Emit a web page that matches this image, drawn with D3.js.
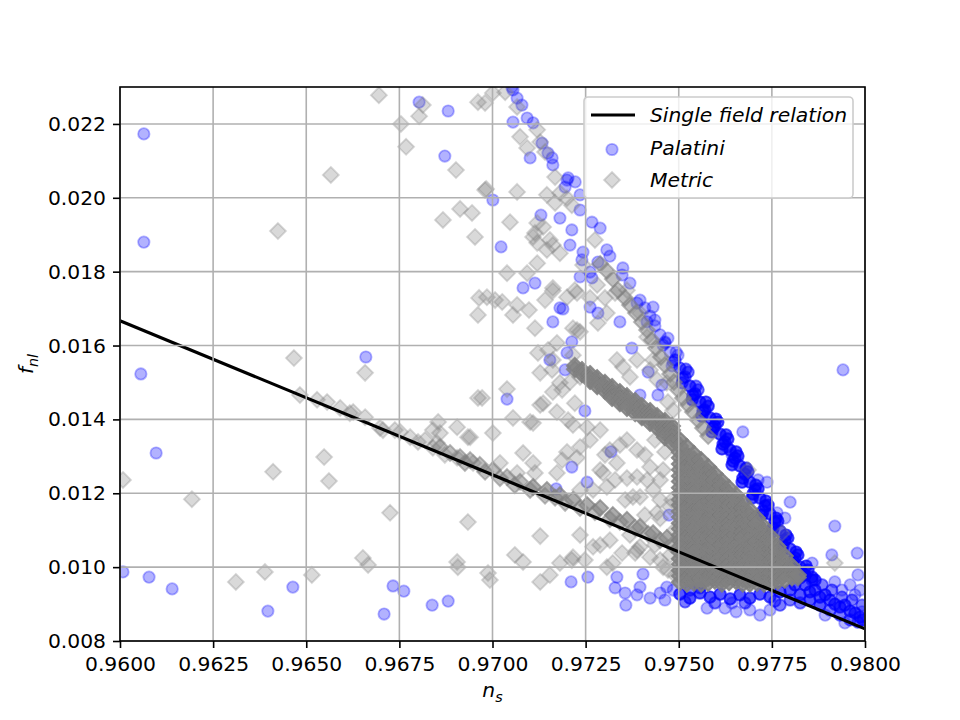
<!DOCTYPE html>
<html>
<head>
<meta charset="utf-8">
<script src="https://cdn.jsdelivr.net/npm/d3@7"></script>
<style>
  body { margin: 0; background: #fff; }
  svg { display: block; }
  text { font-family: "DejaVu Sans", sans-serif; }
</style>
</head>
<body>
<div id="chart"></div>
<script>
// ---- data ----
// points are [ns, fnl] or [ns, fnl, n] where n = how many markers overlap there
const xTicks = [0.96, 0.9625, 0.965, 0.9675, 0.97, 0.9725, 0.975, 0.9775, 0.98];
const yTicks = [0.008, 0.010, 0.012, 0.014, 0.016, 0.018, 0.020, 0.022];

// single field relation, two end points
const lineNs = [0.96, 0.98];
const lineFnl = [0.01667, 0.00833];

// Palatini: isolated points
const palatiniScatter = [
  [0.96064,0.02173],[0.96064,0.01880],[0.96056,0.01523],[0.96097,0.01309],[0.96008,0.00987],
  [0.96078,0.00973],[0.96140,0.00941],[0.96397,0.00881],[0.96464,0.00946],[0.96660,0.01569],
  [0.96709,0.00873],[0.96733,0.00949],[0.96762,0.00935],[0.96838,0.00897],[0.96881,0.00908],
  [0.96803,0.02259],[0.96881,0.02235],[0.96872,0.02113],[0.97001,0.01994],[0.97023,0.01867],
  [0.97082,0.01756],[0.97114,0.01769],[0.97189,0.01699],[0.97162,0.01664],[0.97039,0.01455],
  [0.97248,0.01423],[0.97213,0.01610],[0.97200,0.01580],[0.97195,0.01534],[0.97318,0.01312],
  [0.97213,0.01271],[0.97254,0.01230],[0.97171,0.01212],[0.97474,0.01141],[0.97672,0.01366],
  [0.97737,0.01230],[0.97713,0.01236],[0.97799,0.01176],[0.97785,0.01133],[0.97764,0.01147],
  [0.97919,0.01111],[0.97979,0.01038],[0.97911,0.01033],[0.97981,0.00979],[0.97938,0.00938],
  [0.97973,0.00925],[0.97858,0.01011],[0.97576,0.00889],[0.97654,0.00879],[0.97691,0.00884],
  [0.97718,0.00870],[0.97941,0.01534],[0.97211,0.00960],[0.97256,0.00973],[0.97334,0.00973],
  [0.97329,0.00944],[0.97356,0.00930],[0.97358,0.00897],[0.97388,0.00925],[0.97404,0.00981],
  [0.97396,0.00946],[0.97450,0.00930],[0.97468,0.00946],[0.97485,0.00938],[0.97630,0.01325],
  [0.97643,0.01304]
];

// Palatini: upper branch
const palatiniUpper = [
  [0.97052,0.02300],[0.97055,0.02292],[0.97066,0.02270],[0.97079,0.02251],[0.97055,0.02205],
  [0.97093,0.02216],[0.97109,0.02203],[0.97101,0.02108],[0.97133,0.02148],[0.97149,0.02121],
  [0.97160,0.02108],[0.97162,0.02089],[0.97203,0.02054],[0.97222,0.02043],[0.97195,0.02029],
  [0.97235,0.02008],[0.97235,0.01967],[0.97267,0.01934],[0.97289,0.01918],[0.97213,0.01913],
  [0.97130,0.01953],[0.97181,0.01945],[0.97208,0.01872],[0.97243,0.01853],[0.97240,0.01832],
  [0.97307,0.01859],[0.97315,0.01842],[0.97350,0.01810],[0.97283,0.01826],[0.97235,0.01786],
  [0.97267,0.01783],[0.97262,0.01799],[0.97348,0.01791],[0.97369,0.01769],[0.97388,0.01715],
  [0.97431,0.01704],[0.97415,0.01664],[0.97436,0.01669],[0.97463,0.01610],[0.97181,0.01702],
  [0.97283,0.01688],[0.97342,0.01664],[0.97374,0.01593],[0.97262,0.01704],[0.97154,0.01561],
  [0.97455,0.01493],[0.97444,0.01466],[0.97396,0.01466],[0.97418,0.01528],[0.97200,0.02048]
];

// Palatini: dense edge running down to the tip
const palatiniEdge = [
  [0.97396,0.01723],[0.97409,0.01702],[0.97423,0.01680],[0.97436,0.01653],
  [0.97450,0.01629],[0.97463,0.01607],[0.97477,0.01582],[0.97490,0.01561,2],[0.97503,0.01539,2],
  [0.97517,0.01515,2],[0.97530,0.01490,3],[0.97544,0.01469,3],[0.97557,0.01447,3],[0.97570,0.01425,3],
  [0.97584,0.01404,3],[0.97597,0.01382,3],[0.97611,0.01360,3],[0.97624,0.01339,3],[0.97638,0.01317,3],
  [0.97651,0.01295,3],[0.97664,0.01274,3],[0.97678,0.01252,3],[0.97691,0.01230,3],[0.97705,0.01209,3],
  [0.97718,0.01187,3],[0.97732,0.01166,3],[0.97745,0.01144,3],[0.97758,0.01122,3],[0.97772,0.01098,3],
  [0.97785,0.01073,3],[0.97799,0.01049,3],[0.97812,0.01025,3],[0.97826,0.01000,3],[0.97839,0.00979,3],
  [0.97471,0.01620],[0.97498,0.01574],[0.97525,0.01528,2],[0.97552,0.01480,2],[0.97579,0.01436,3],
  [0.97605,0.01393,3],[0.97632,0.01347,3],[0.97659,0.01301,3],[0.97686,0.01258,3],[0.97713,0.01212,3],
  [0.97740,0.01168,3],[0.97766,0.01125,3],[0.97793,0.01079,3],[0.97820,0.01033,3],[0.97847,0.00992,3],
  [0.97866,0.00965,3],
  [0.97482,0.01545],[0.97509,0.01499,2],[0.97536,0.01453,3],[0.97562,0.01409,3],[0.97589,0.01366,3],
  [0.97616,0.01320,3],[0.97643,0.01277,3],[0.97670,0.01230,3],[0.97697,0.01187,3],[0.97723,0.01141,3],
  [0.97750,0.01095,3],[0.97777,0.01046,3],[0.97804,0.01003,3],[0.97826,0.00971,3],
  [0.97458,0.01601],[0.97485,0.01555],[0.97511,0.01512,2],[0.97538,0.01466,3],[0.97565,0.01423,3],
  [0.97592,0.01377,3],[0.97619,0.01333,3],[0.97646,0.01287,3],[0.97672,0.01241,3],[0.97699,0.01198,3],
  [0.97726,0.01152,3],[0.97753,0.01106,3],[0.97780,0.01060,3],[0.97807,0.01017,3],[0.97834,0.00981,3],
  [0.97493,0.01582],[0.97519,0.01536,2],[0.97546,0.01490,2],[0.97573,0.01447,3],[0.97600,0.01401,3],
  [0.97627,0.01358,3],[0.97654,0.01312,3],[0.97681,0.01268,3],[0.97707,0.01222,3],[0.97734,0.01179,3],
  [0.97761,0.01133,3],[0.97788,0.01087,3],[0.97815,0.01041,3],[0.97842,0.01003,3],[0.97858,0.00973,3]
];

// Palatini: crowd below the wedge and past the tip
const palatiniLower = [
  [0.97503,0.00927,3],[0.97530,0.00916,3],[0.97557,0.00930,3],[0.97584,0.00919,3],[0.97611,0.00927,3],
  [0.97638,0.00914,3],[0.97664,0.00925,3],[0.97691,0.00916,3],[0.97718,0.00927,3],[0.97745,0.00919,3],
  [0.97772,0.00933,3],[0.97799,0.00938,3],[0.97517,0.00906,2],[0.97597,0.00903,2],[0.97678,0.00903,2],
  [0.97758,0.00908,2],[0.97423,0.00916],[0.97463,0.00911],[0.97530,0.00938,2],[0.97557,0.00944,2],
  [0.97643,0.00903],[0.97624,0.00889],[0.97745,0.00884],[0.97772,0.00897,2],
  [0.97812,0.00952,3],[0.97839,0.00952,3],[0.97852,0.00933,3],[0.97866,0.00938,3],[0.97879,0.00919,3],
  [0.97893,0.00925,3],[0.97906,0.00911,3],[0.97919,0.00900,3],[0.97933,0.00892,3],[0.97946,0.00897,3],
  [0.97960,0.00881,3],[0.97973,0.00876,3],[0.97987,0.00865,3],[0.97995,0.00857,3],[0.97826,0.00925,3],
  [0.97852,0.00911,3],[0.97879,0.00897,3],[0.97906,0.00884,2],[0.97933,0.00870,2],[0.97960,0.00857,2],
  [0.97981,0.00851,2],[0.97858,0.00965,2],[0.97885,0.00952,2],[0.97911,0.00938,2],[0.97938,0.00919,2],
  [0.97965,0.00911,2],[0.97992,0.00897,2],[0.97799,0.00911,2],[0.97826,0.00903,2],[0.97893,0.00870],
  [0.97946,0.00849],[0.97992,0.00879],[0.97919,0.00960],[0.97960,0.00952],[0.97987,0.00938]
];

// Metric: isolated points
const metricScatter = [
  [0.96695,0.02278],[0.96754,0.02200],[0.96803,0.02221],[0.96813,0.02251],[0.96768,0.02138],
  [0.96902,0.02075],[0.96961,0.02259],[0.96566,0.02062],[0.96424,0.01910],[0.96867,0.01940],
  [0.96913,0.01970],[0.96945,0.01959],[0.96953,0.01894],[0.96961,0.01683],[0.96964,0.01729],
  [0.96983,0.02024],[0.97066,0.02016],[0.97047,0.01934],[0.97039,0.01796],[0.97093,0.01796],
  [0.97120,0.01823],[0.97114,0.01905],[0.97120,0.01878],[0.97146,0.01859],[0.97136,0.01921],
  [0.97162,0.01872],[0.96985,0.01731],[0.97007,0.01723],[0.97026,0.01718],[0.97055,0.01683],
  [0.97066,0.01710],[0.97098,0.01696],[0.97114,0.01647],[0.97162,0.01748],[0.97200,0.01731],
  [0.97227,0.01742],[0.97216,0.01647],[0.97235,0.01637],[0.97122,0.01580],[0.97173,0.01607],
  [0.97162,0.01561],[0.97187,0.01480],[0.97208,0.01501],[0.97235,0.01515],[0.97128,0.01439],
  [0.97173,0.01420],[0.96972,0.01458],[0.97039,0.01482],[0.97055,0.01404],[0.97109,0.01390],
  [0.97001,0.01363],
  [0.96980,0.02257],[0.97001,0.02284],[0.97034,0.02286],[0.97066,0.02246],[0.97074,0.02165],
  [0.97093,0.02135],[0.97120,0.02184],[0.97128,0.02151],[0.97141,0.02124],[0.97168,0.02056],
  [0.97181,0.02013],[0.97146,0.02008],[0.97168,0.01986],[0.97200,0.01999],[0.97213,0.01980],
  [0.96980,0.02021],[0.97120,0.01932],[0.97109,0.01894],[0.97154,0.01886],[0.97181,0.01850],
  [0.97162,0.01756],[0.97221,0.01750],[0.97141,0.01723],[0.97262,0.01729],[0.97302,0.01729],
  [0.97329,0.01742],[0.97283,0.01661],[0.97307,0.01688],[0.97361,0.01750],[0.97396,0.01688],
  [0.97415,0.01623],[0.97227,0.01642],[0.97216,0.01574],[0.97149,0.01588],[0.97128,0.01526],
  [0.97160,0.01534],[0.97181,0.01499],[0.97162,0.01474],[0.97136,0.01444],[0.97221,0.01444],
  [0.97203,0.01398],[0.97254,0.01379],[0.97289,0.01371],[0.97334,0.01561],[0.97350,0.01542],
  [0.97388,0.01561],[0.97369,0.01515],[0.97431,0.01561],[0.97423,0.01534],[0.97442,0.01507],
  [0.97468,0.01499],[0.97471,0.01447],[0.97485,0.01425],[0.97243,0.01818],[0.97281,0.01764],
  [0.97275,0.01886],
  [0.96467,0.01566],[0.96658,0.01526],[0.96483,0.01466],[0.96529,0.01453],[0.96556,0.01447],
  [0.96591,0.01431],[0.96617,0.01417],[0.96626,0.01420],[0.96658,0.01406],[0.96698,0.01377],
  [0.96706,0.01371],[0.96738,0.01371],[0.96800,0.01339],[0.96854,0.01393],[0.96840,0.01371],
  [0.96859,0.01363],[0.96905,0.01379],[0.96934,0.01352],[0.96851,0.01336],[0.96840,0.01323],
  [0.96872,0.01304],[0.96905,0.01296],[0.96948,0.01282],[0.96961,0.01458],[0.96008,0.01236],
  [0.96548,0.01298],[0.96411,0.01258],[0.96561,0.01233],[0.96193,0.01184],[0.96725,0.01147],
  [0.96934,0.01122],[0.96652,0.01025],[0.96666,0.01006],[0.96905,0.01014],[0.96907,0.01000],
  [0.96311,0.00960],[0.96389,0.00987],[0.96515,0.00979],
  [0.97128,0.01084],[0.97235,0.01087],[0.97060,0.01033],[0.97082,0.01014],[0.96988,0.00984],
  [0.96993,0.00965],[0.97128,0.00960],[0.97154,0.00979],[0.97181,0.01011],[0.97213,0.01019],
  [0.97307,0.01000],[0.97323,0.01011],[0.97348,0.01038],[0.97383,0.01038],[0.97396,0.01055],
  [0.97450,0.01019],[0.97020,0.01282],[0.97101,0.01393],[0.97216,0.01385],[0.96940,0.01352],
  [0.97082,0.01309],[0.97109,0.01282],[0.97187,0.01290],[0.97200,0.01312],[0.97227,0.01296],
  [0.97173,0.01255],[0.97114,0.01255],[0.97066,0.01255],[0.97334,0.01282],[0.97361,0.01241],
  [0.97388,0.01244],[0.97415,0.01236],[0.97307,0.01217],[0.97270,0.01209],[0.97356,0.01182],
  [0.97396,0.01190],[0.97431,0.01209],[0.97477,0.01163],[0.97442,0.01147],
  [0.97235,0.01325],[0.97315,0.01317],[0.97361,0.01344],[0.97388,0.01317],[0.97423,0.01271],
  [0.97450,0.01236],[0.97297,0.01255],[0.97377,0.01190],[0.97450,0.01132],[0.97315,0.01073],
  [0.97388,0.01046],[0.97423,0.01027],[0.97458,0.01000],[0.97270,0.01055],[0.97216,0.01027],
  [0.97458,0.01263],[0.97482,0.01182],[0.97490,0.01101],[0.97477,0.01033],[0.97490,0.00979],
  [0.97262,0.01344],[0.97302,0.01304],[0.97342,0.01331],[0.97409,0.01304],[0.97436,0.01344],
  [0.97463,0.01312],[0.97289,0.01263],[0.97329,0.01236],[0.97450,0.01182],[0.97409,0.01141],
  [0.97369,0.01087],[0.97289,0.01060],[0.97248,0.01019],[0.97436,0.01060],[0.97471,0.00992],
  [0.97235,0.01209],
  [0.97919,0.01011],[0.97777,0.01092],[0.97686,0.01263]
];

// Metric: thin stream beside the Palatini edge
const metricStream = [
  [0.97289,0.01821,2],[0.97307,0.01802,2],[0.97323,0.01780,2],[0.97337,0.01750,2],[0.97356,0.01729,2],
  [0.97369,0.01710,2],[0.97385,0.01688,2],[0.97401,0.01664,2],[0.97415,0.01642,2],[0.97428,0.01615,2],
  [0.97439,0.01593,2],[0.97452,0.01569,2],[0.97463,0.01547,2],[0.97477,0.01523,2],[0.97487,0.01501,2],
  [0.97498,0.01480,2],[0.97511,0.01458,2],[0.97525,0.01439,2],[0.97538,0.01420,2],[0.97552,0.01398,2],
  [0.97565,0.01377,2],[0.97579,0.01355,2]
];

// Metric: points hugging the single field line
const metricLine = [
  [0.96859,0.01325,2],[0.96886,0.01309,2],[0.96913,0.01298,2],[0.96940,0.01290,2],[0.96966,0.01277,2],
  [0.97001,0.01263,2],[0.97039,0.01244,2],[0.97074,0.01231,2],[0.97109,0.01217,3],[0.97146,0.01209,3],
  [0.97181,0.01195,3],[0.97216,0.01182,3],[0.97254,0.01168,3],[0.97289,0.01160,3],[0.97323,0.01141,3],
  [0.97361,0.01128,3],[0.97396,0.01109,3],[0.97431,0.01092,3],[0.97468,0.01079,3],
  [0.96926,0.01282,2],[0.96980,0.01258,2],[0.97020,0.01241,2],[0.97060,0.01222,2],[0.97101,0.01209,2],
  [0.97141,0.01193,2],[0.97168,0.01188,2],[0.97195,0.01174,2],[0.97235,0.01160,2],[0.97275,0.01149,2],
  [0.97315,0.01130,2],[0.97342,0.01122,2],[0.97383,0.01106,2],[0.97418,0.01090,2],[0.97450,0.01073,2],
  [0.97482,0.01060,2],[0.96819,0.01344],[0.96779,0.01352],[0.96752,0.01366]
];

// Metric: dense narrow band, columns of [ns, [fnl...], n]
const metricBandCols = [
  [0.97221, [0.01545, 0.01536], 4],
  [0.97240, [0.01534, 0.01523], 5],
  [0.97262, [0.01523, 0.01512, 0.01504], 5],
  [0.97281, [0.01512, 0.01501, 0.01490], 5],
  [0.97302, [0.01499, 0.01488, 0.01477], 5],
  [0.97321, [0.01488, 0.01477, 0.01466, 0.01458], 5],
  [0.97342, [0.01474, 0.01463, 0.01453, 0.01444], 5],
  [0.97361, [0.01463, 0.01453, 0.01442, 0.01431], 5],
  [0.97383, [0.01450, 0.01439, 0.01428, 0.01417], 5],
  [0.97401, [0.01436, 0.01425, 0.01415, 0.01406], 5],
  [0.97423, [0.01423, 0.01412, 0.01401, 0.01390], 5],
  [0.97442, [0.01409, 0.01398, 0.01388, 0.01377], 5],
  [0.97463, [0.01396, 0.01385, 0.01374, 0.01363, 0.01352], 5],
  [0.97482, [0.01382, 0.01371, 0.01360, 0.01350, 0.01336], 5]
];

// Metric: the solid wedge, columns of [ns, [fnl...], n]
const metricWedgeCols = [
  [0.97503, [0.01344,0.01328,0.01311,0.01296,0.01279,0.01264,0.01247,0.01232,0.01215,0.01200,0.01183,0.01168,0.01151,0.01136,0.01119,0.01104,0.01087,0.01072,0.01055,0.01040,0.01023,0.01008,0.00991,0.00976,0.00959], 5],
  [0.97522, [0.01325,0.01303,0.01288,0.01271,0.01256,0.01239,0.01224,0.01207,0.01192,0.01175,0.01160,0.01143,0.01128,0.01111,0.01096,0.01079,0.01064,0.01047,0.01032,0.01015,0.01000,0.00983,0.00968,0.00955], 5],
  [0.97541, [0.01306,0.01292,0.01277,0.01262,0.01245,0.01230,0.01213,0.01198,0.01181,0.01166,0.01149,0.01134,0.01117,0.01102,0.01085,0.01070,0.01053,0.01038,0.01021,0.01006,0.00989,0.00974,0.00958], 5],
  [0.97560, [0.01290,0.01271,0.01256,0.01239,0.01224,0.01207,0.01192,0.01175,0.01160,0.01143,0.01128,0.01111,0.01096,0.01079,0.01064,0.01047,0.01032,0.01015,0.01000,0.00983,0.00968,0.00955], 5],
  [0.97579, [0.01271,0.01258,0.01242,0.01227,0.01210,0.01195,0.01178,0.01163,0.01146,0.01131,0.01114,0.01099,0.01082,0.01067,0.01050,0.01035,0.01018,0.01003,0.00986,0.00971,0.00957], 5],
  [0.97597, [0.01252,0.01236,0.01219,0.01204,0.01187,0.01172,0.01155,0.01140,0.01123,0.01108,0.01091,0.01076,0.01059,0.01044,0.01027,0.01012,0.00995,0.00980,0.00963], 5],
  [0.97616, [0.01233,0.01220,0.01205,0.01188,0.01173,0.01156,0.01141,0.01124,0.01109,0.01092,0.01077,0.01060,0.01045,0.01028,0.01013,0.00996,0.00981,0.00966,0.00955], 5],
  [0.97635, [0.01214,0.01199,0.01182,0.01167,0.01150,0.01135,0.01118,0.01103,0.01086,0.01071,0.01054,0.01039,0.01022,0.01007,0.00990,0.00975,0.00959], 5],
  [0.97654, [0.01195,0.01183,0.01168,0.01151,0.01136,0.01119,0.01104,0.01087,0.01072,0.01055,0.01040,0.01023,0.01008,0.00991,0.00976,0.00962], 5],
  [0.97672, [0.01176,0.01160,0.01143,0.01128,0.01111,0.01096,0.01079,0.01064,0.01047,0.01032,0.01015,0.01000,0.00983,0.00968,0.00955], 5],
  [0.97691, [0.01155,0.01141,0.01126,0.01109,0.01094,0.01077,0.01062,0.01045,0.01030,0.01013,0.00998,0.00981,0.00966,0.00955], 5],
  [0.97710, [0.01133,0.01117,0.01100,0.01085,0.01068,0.01053,0.01036,0.01021,0.01004,0.00989,0.00972,0.00957], 5],
  [0.97729, [0.01109,0.01095,0.01080,0.01063,0.01048,0.01031,0.01016,0.00999,0.00984,0.00967,0.00955], 5],
  [0.97748, [0.01082,0.01066,0.01049,0.01034,0.01017,0.01002,0.00985,0.00970,0.00956], 5],
  [0.97766, [0.01055,0.01041,0.01026,0.01009,0.00994,0.00977,0.00962], 5],
  [0.97785, [0.01030,0.01014,0.00999,0.00983,0.00966], 5],
  [0.97804, [0.01003,0.00988,0.00972], 5],
  [0.97820, [0.00979,0.00972], 4]
];

// ---- build the two series ----
const repeat = (ns, f, n) => d3.range(n || 1).map(() => [ns, f]);
const fromPoints = pts => pts.flatMap(p => repeat(p[0], p[1], p[2]));
const fromCols = cols => cols.flatMap(([ns, list, n]) => list.flatMap(f => repeat(ns, f, n)));
const palatini = [].concat(
  fromPoints(palatiniScatter), fromPoints(palatiniUpper),
  fromPoints(palatiniEdge), fromPoints(palatiniLower));
const metric = [].concat(
  fromPoints(metricScatter), fromPoints(metricStream), fromPoints(metricLine),
  fromCols(metricBandCols), fromCols(metricWedgeCols));

// ---- layout ----
const W = 960, H = 720;
const m = { left: 120, right: 95, top: 87, bottom: 79 };
const pw = W - m.left - m.right, ph = H - m.top - m.bottom;
const fs = 20.3;

const svg = d3.select("#chart").append("svg")
  .attr("width", W).attr("height", H);

const x = d3.scaleLinear().domain([0.96, 0.98]).range([0, pw]);
const y = d3.scaleLinear().domain([0.008, 0.023]).range([ph, 0]);

svg.append("defs").append("clipPath").attr("id", "clip")
  .append("rect").attr("width", pw).attr("height", ph);

const g = svg.append("g").attr("transform", `translate(${m.left},${m.top})`);
const plot = g.append("g").attr("clip-path", "url(#clip)");

// Palatini circles
plot.append("g").selectAll("circle")
  .data(palatini).enter().append("circle")
  .attr("cx", d => x(d[0])).attr("cy", d => y(d[1]))
  .attr("r", 5.7)
  .attr("fill", "blue").attr("fill-opacity", 0.3)
  .attr("stroke", "blue").attr("stroke-opacity", 0.3).attr("stroke-width", 1.8);

// Metric diamonds
const diamond = h => `M0,${-h}L${h},0L0,${h}L${-h},0Z`;
plot.append("g").selectAll("path")
  .data(metric).enter().append("path")
  .attr("d", diamond(8))
  .attr("transform", d => `translate(${x(d[0])},${y(d[1])})`)
  .attr("fill", "gray").attr("fill-opacity", 0.3)
  .attr("stroke", "gray").attr("stroke-opacity", 0.3).attr("stroke-width", 1.8);

// grid (drawn above the markers, as in the figure)
g.append("g").selectAll("line.gx").data(xTicks).enter().append("line")
  .attr("x1", d => x(d)).attr("x2", d => x(d)).attr("y1", 0).attr("y2", ph)
  .attr("stroke", "#b0b0b0").attr("stroke-width", 1.6);
g.append("g").selectAll("line.gy").data(yTicks).enter().append("line")
  .attr("x1", 0).attr("x2", pw).attr("y1", d => y(d)).attr("y2", d => y(d))
  .attr("stroke", "#b0b0b0").attr("stroke-width", 1.6);

// single field relation
const lineData = lineNs.map((v, i) => [v, lineFnl[i]]);
plot.append("path").datum(lineData)
  .attr("d", d3.line().x(d => x(d[0])).y(d => y(d[1])))
  .attr("fill", "none").attr("stroke", "black").attr("stroke-width", 3.1);

// axes
const xAxis = g.append("g").attr("transform", `translate(0,${ph})`)
  .call(d3.axisBottom(x).tickValues(xTicks).tickFormat(d3.format(".4f"))
    .tickSize(7).tickPadding(9).tickSizeOuter(0));
const yAxis = g.append("g")
  .call(d3.axisLeft(y).tickValues(yTicks).tickFormat(d3.format(".3f"))
    .tickSize(7).tickPadding(7).tickSizeOuter(0));
[xAxis, yAxis].forEach(a => {
  a.selectAll("text").attr("font-size", fs).attr("fill", "black")
    .style("font-family", '"DejaVu Sans", sans-serif');
  a.selectAll("line").attr("stroke", "black").attr("stroke-width", 1.6);
  a.select(".domain").remove();
});

// spines
g.append("rect").attr("width", pw).attr("height", ph)
  .attr("fill", "none").attr("stroke", "black").attr("stroke-width", 1.6);

// axis labels
const xl = svg.append("text").attr("x", m.left + pw / 2).attr("y", 697)
  .attr("text-anchor", "middle").attr("font-size", fs).attr("font-style", "italic");
xl.append("tspan").text("n");
xl.append("tspan").attr("dy", 5).attr("font-size", 14.3).text("s");

const yl = svg.append("text")
  .attr("transform", `translate(33,${m.top + ph / 2}) rotate(-90)`)
  .attr("text-anchor", "middle").attr("font-size", fs).attr("font-style", "italic");
yl.append("tspan").text("f");
yl.append("tspan").attr("dy", 5).attr("font-size", 14.3).text("nl");

// legend
const lg = svg.append("g").attr("transform", "translate(584,97)");
lg.append("rect").attr("width", 269).attr("height", 101).attr("rx", 4)
  .attr("fill", "white").attr("fill-opacity", 0.8)
  .attr("stroke", "#cccccc").attr("stroke-width", 1.6);
const legendItems = ["Single field relation", "Palatini", "Metric"];
legendItems.forEach((label, i) => {
  const cy = 18 + i * 32.5;
  if (i === 0) {
    lg.append("line").attr("x1", 7).attr("x2", 51).attr("y1", cy).attr("y2", cy)
      .attr("stroke", "black").attr("stroke-width", 3.1);
  } else if (i === 1) {
    lg.append("circle").attr("cx", 28).attr("cy", cy + 2).attr("r", 5.7)
      .attr("fill", "blue").attr("fill-opacity", 0.3)
      .attr("stroke", "blue").attr("stroke-opacity", 0.3).attr("stroke-width", 1.8);
  } else {
    lg.append("path").attr("d", diamond(8)).attr("transform", `translate(28,${cy})`)
      .attr("fill", "gray").attr("fill-opacity", 0.3)
      .attr("stroke", "gray").attr("stroke-opacity", 0.3).attr("stroke-width", 1.8);
  }
  lg.append("text").attr("x", 66).attr("y", cy + 7)
    .attr("font-size", fs).attr("font-style", "italic").text(label);
});
</script>
</body>
</html>
